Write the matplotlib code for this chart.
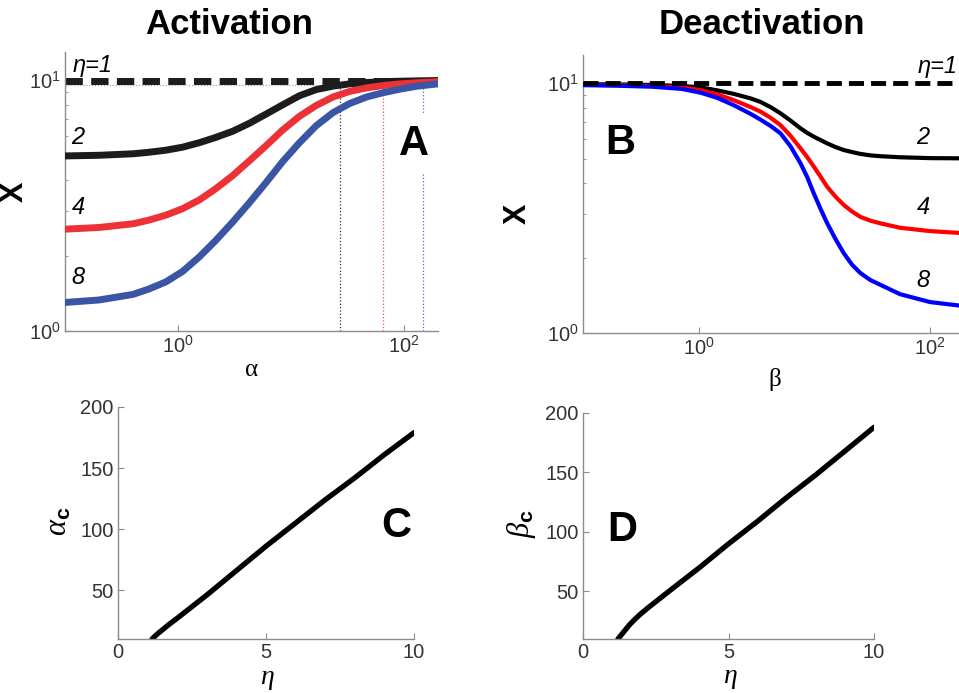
import numpy as np
import matplotlib.pyplot as plt
from matplotlib.ticker import FixedLocator, LogLocator, NullLocator, NullFormatter, FuncFormatter

plt.rcParams['font.family'] = ['Liberation Sans', 'DejaVu Sans']
plt.rcParams['mathtext.fontset'] = 'custom'
plt.rcParams['mathtext.rm'] = 'Liberation Sans'
plt.rcParams['mathtext.it'] = 'Liberation Serif:italic'
plt.rcParams['mathtext.bf'] = 'Liberation Sans:bold'

# --- panel A: activation, X vs alpha
alpha = [0.1, 0.2, 0.4, 0.55, 0.78, 1.1, 1.55, 2.16, 3.04, 4.28, 6.03, 8.45, 11.9,
         16.7, 23.6, 33.1, 46.8, 66.1, 93.3, 132, 200]
act_eta2 = [5.0, 5.03, 5.1, 5.17, 5.27, 5.42, 5.65, 5.93, 6.27, 6.75, 7.35, 8.0, 8.7,
            9.2, 9.5, 9.7, 9.82, 9.9, 9.94, 9.97, 10.0]
act_eta4 = [2.55, 2.59, 2.68, 2.77, 2.9, 3.08, 3.34, 3.7, 4.17, 4.78, 5.5, 6.35, 7.2,
            7.95, 8.6, 9.05, 9.35, 9.55, 9.7, 9.8, 9.9]
act_eta8 = [1.3, 1.33, 1.4, 1.47, 1.57, 1.73, 1.98, 2.3, 2.72, 3.25, 3.92, 4.75, 5.65,
            6.6, 7.45, 8.1, 8.6, 8.95, 9.25, 9.5, 9.7]
alpha_c_marks = [27, 65.5, 148]
threshold = 9.64

# --- panel B: deactivation, X vs beta
beta = [0.1, 0.2, 0.4, 0.71, 1.04, 1.45, 2.01, 2.81, 3.42, 4.17, 5.09, 6.21, 7.57, 8.65,
        9.86, 11.3, 12.9, 15.2, 17.9, 21.1, 24.9, 30.4, 37.1, 55.1, 100, 200]
deact_eta2 = [9.93, 9.91, 9.86, 9.77, 9.64, 9.38, 9.08, 8.71, 8.43, 8.04, 7.59, 7.1, 6.61,
              6.34, 6.12, 5.93, 5.75, 5.56, 5.41, 5.31, 5.22, 5.15, 5.11, 5.06, 5.02, 5.01]
deact_eta4 = [9.89, 9.84, 9.77, 9.64, 9.4, 9.04, 8.57, 8.04, 7.71, 7.29, 6.81, 6.17, 5.5,
              5.07, 4.65, 4.23, 3.85, 3.52, 3.26, 3.07, 2.92, 2.82, 2.75, 2.64, 2.56, 2.51]
deact_eta8 = [9.84, 9.79, 9.7, 9.51, 9.18, 8.75, 8.18, 7.55, 7.16, 6.76, 6.31, 5.6, 4.79,
              4.22, 3.63, 3.14, 2.75, 2.38, 2.09, 1.88, 1.74, 1.63, 1.56, 1.43, 1.33, 1.28]

# --- panels C, D: critical values vs eta
eta_c = [1.15, 1.3, 1.5, 1.7, 2, 2.5, 3, 4, 5, 6, 7, 8, 9, 10]
alpha_c = [10, 13.5, 17.5, 21.5, 27, 36.5, 46, 66, 86, 105, 124, 142, 161, 179]
eta_d = [1.2, 1.3, 1.45, 1.6, 1.8, 2.0, 2.3, 3, 4, 5, 6, 7, 8, 9, 10]
beta_c = [10, 13, 17.5, 22, 27, 31.5, 37.5, 51, 70, 90, 109, 129, 148, 168, 188]

W, H = 959, 693
fig = plt.figure(figsize=(W / 100, H / 100), dpi=100)


def box(l, t, r, b):
    return [l / W, 1 - b / H, (r - l) / W, (b - t) / H]


def style(ax, fs=14.5):
    for s in ['top', 'right']:
        ax.spines[s].set_visible(False)
    for s in ['left', 'bottom']:
        ax.spines[s].set_color('#8c8c8c')
        ax.spines[s].set_linewidth(1.0)
    ax.tick_params(which='both', direction='in', colors='#8c8c8c', labelcolor='#333333',
                   labelsize=fs, pad=3)
    ax.tick_params(which='major', length=4)
    ax.tick_params(which='minor', length=2.5)


def logaxis(ax):
    ax.set_xscale('log')
    ax.set_yscale('log')
    ax.set_xlim(0.1, 200)
    ax.set_ylim(1, 13)
    ax.xaxis.set_major_locator(FixedLocator([1, 100]))
    ax.xaxis.set_minor_locator(NullLocator())
    ax.yaxis.set_major_locator(FixedLocator([1, 10]))
    ax.yaxis.set_minor_locator(LogLocator(base=10, subs=np.arange(2, 10)))
    ax.yaxis.set_minor_formatter(NullFormatter())
    fmt = FuncFormatter(lambda v, p: r'$10^{%d}$' % round(np.log10(v)))
    ax.xaxis.set_major_formatter(fmt)
    ax.yaxis.set_major_formatter(fmt)
    style(ax)


# panel A
axA = fig.add_axes(box(65, 52, 438, 331))
logaxis(axA)
axA.axhline(threshold, color='#999999', lw=0.8, ls=':', zorder=1)
for a, c in zip(alpha_c_marks, ['#333333', '#ee5555', '#5566cc']):
    axA.vlines(a, 1, threshold, color=c, lw=0.9, ls=':', zorder=1)
axA.axhline(10, color='#1c1c1c', lw=5, ls=(0, (2.5, 1.2)), zorder=2)
axA.plot(alpha, act_eta2, color='#1c1c1c', lw=5, zorder=3)
axA.plot(alpha, act_eta4, color='#ec3237', lw=5, zorder=3)
axA.plot(alpha, act_eta8, color='#3b55a5', lw=5, zorder=3)
axA.set_xlabel('α', family='Liberation Serif', fontsize=18)
axA.xaxis.set_label_coords(0.501, -0.1)
axA.set_ylabel('X', fontsize=22, fontweight='bold')
axA.yaxis.set_label_coords(-0.094, 0.5)
axA.text(0.936, 0.67, 'A', transform=axA.transAxes, fontsize=30, fontweight='bold',
         ha='center', va='center', zorder=5,
         bbox=dict(boxstyle='square,pad=0.25', fc='white', ec='none'))
for lab, y in [('2', 0.695), ('4', 0.444), ('8', 0.19)]:
    axA.text(0.035, y, lab, transform=axA.transAxes, fontsize=17, style='italic',
             ha='center', va='center')
axA.text(0.021, 0.95, 'η=1', transform=axA.transAxes, fontsize=17, style='italic',
         ha='left', va='center', clip_on=False)

# panel B
axB = fig.add_axes(box(583, 55, 965, 333))
logaxis(axB)
axB.plot(beta, deact_eta2, color='black', lw=3, zorder=3)
axB.plot(beta, deact_eta4, color='#ff0000', lw=3, zorder=3)
axB.plot(beta, deact_eta8, color='#0000ff', lw=3, zorder=3)
axB.axhline(10, color='black', lw=3.5, ls=(0, (3.1, 1.45)), zorder=4)
axB.set_xlabel('β', family='Liberation Serif', fontsize=18)
axB.xaxis.set_label_coords(0.503, -0.125)
axB.set_ylabel('X', fontsize=22, fontweight='bold')
axB.yaxis.set_label_coords(-0.131, 0.428)
axB.text(0.097, 0.682, 'B', transform=axB.transAxes, fontsize=30, fontweight='bold',
         ha='center', va='center', zorder=5)
for lab, y in [('2', 0.705), ('4', 0.45), ('8', 0.19)]:
    axB.text(0.89, y, lab, transform=axB.transAxes, fontsize=17, style='italic',
             ha='center', va='center')
axB.text(0.877, 0.96, 'η=1', transform=axB.transAxes, fontsize=17, style='italic',
         ha='left', va='center', clip_on=False)

# panel C
axC = fig.add_axes(box(118, 407, 414, 639))
axC.plot(eta_c, alpha_c, color='black', lw=3.8, solid_capstyle='round')
axC.set_xlim(0, 10)
axC.set_ylim(10, 200)
axC.set_xticks([0, 5, 10])
axC.set_yticks([50, 100, 150, 200])
style(axC)
axC.set_xlabel(r'$\eta$', fontsize=20)
axC.xaxis.set_label_coords(0.503, -0.115)
axC.set_ylabel(r'$\alpha_\mathbf{c}$', fontsize=22)
axC.yaxis.set_label_coords(-0.15, 0.509)
axC.text(0.939, 0.487, 'C', transform=axC.transAxes, fontsize=30, fontweight='bold',
         ha='center', va='center')

# panel D
axD = fig.add_axes(box(583, 413, 874, 639))
axD.plot(eta_d, beta_c, color='black', lw=3.8, solid_capstyle='round')
axD.set_xlim(0, 10)
axD.set_ylim(10, 200)
axD.set_xticks([0, 5, 10])
axD.set_yticks([50, 100, 150, 200])
style(axD)
axD.set_xlabel(r'$\eta$', fontsize=20)
axD.xaxis.set_label_coords(0.505, -0.115)
axD.set_ylabel(r'$\beta_\mathbf{c}$', fontsize=22)
axD.yaxis.set_label_coords(-0.155, 0.513)
axD.text(0.134, 0.482, 'D', transform=axD.transAxes, fontsize=30, fontweight='bold',
         ha='center', va='center')

# column titles
fig.text(229 / W, 1 - 25 / H, 'Activation', fontsize=25, fontweight='bold', ha='center', va='center')
fig.text(762 / W, 1 - 25 / H, 'Deactivation', fontsize=25, fontweight='bold', ha='center', va='center')

fig.savefig('out.png', dpi=100)
